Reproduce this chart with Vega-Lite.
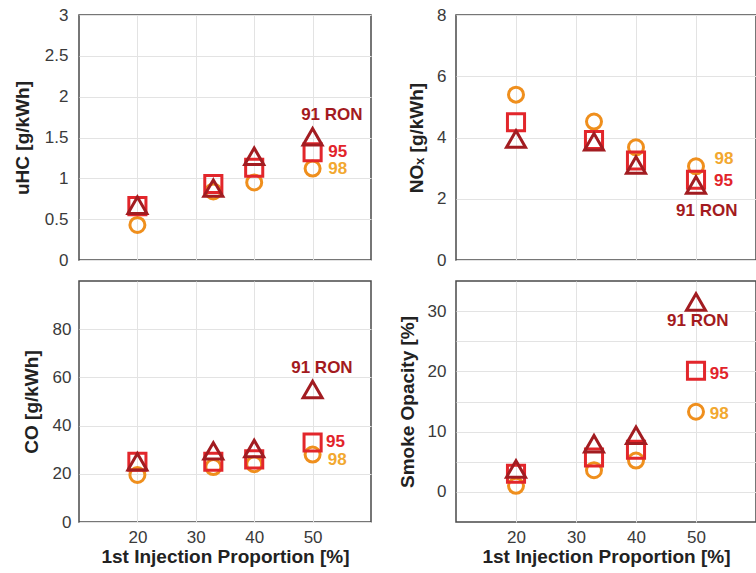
{
  "$schema": "https://vega.github.io/schema/vega-lite/v6.json",
  "padding": {"left": 12, "top": 5, "right": 0, "bottom": 0},
  "background": "white",
  "config": {
    "font": "Liberation Sans",
    "view": {"stroke": "#4a4a4a", "strokeWidth": 1.5},
    "axis": {
      "domain": false, "ticks": false, "grid": true, "gridColor": "#e3e3e3", "gridWidth": 1,
      "labelFont": "Liberation Sans", "labelFontSize": 17, "labelColor": "#3a3a3a", "labelPadding": 11,
      "titleFont": "Liberation Sans", "titleFontSize": 19, "titleFontWeight": "bold", "titleColor": "#222222", "titlePadding": 12,
      "labelFlush": false, "labelOverlap": false, "format": "~r"
    }
  },
  "datasets": {
    "pts": [
      {"p": "uHC", "fuel": "98", "x": 20, "v": 0.43}, {"p": "uHC", "fuel": "98", "x": 33, "v": 0.84}, {"p": "uHC", "fuel": "98", "x": 40, "v": 0.95}, {"p": "uHC", "fuel": "98", "x": 50, "v": 1.12},
      {"p": "uHC", "fuel": "95", "x": 20, "v": 0.66}, {"p": "uHC", "fuel": "95", "x": 33, "v": 0.93}, {"p": "uHC", "fuel": "95", "x": 40, "v": 1.13}, {"p": "uHC", "fuel": "95", "x": 50, "v": 1.32},
      {"p": "uHC", "fuel": "91", "x": 20, "v": 0.67}, {"p": "uHC", "fuel": "91", "x": 33, "v": 0.88}, {"p": "uHC", "fuel": "91", "x": 40, "v": 1.27}, {"p": "uHC", "fuel": "91", "x": 50, "v": 1.51},
      {"p": "NOx", "fuel": "98", "x": 20, "v": 5.40}, {"p": "NOx", "fuel": "98", "x": 33, "v": 4.52}, {"p": "NOx", "fuel": "98", "x": 40, "v": 3.68}, {"p": "NOx", "fuel": "98", "x": 50, "v": 3.06},
      {"p": "NOx", "fuel": "95", "x": 20, "v": 4.50}, {"p": "NOx", "fuel": "95", "x": 33, "v": 3.92}, {"p": "NOx", "fuel": "95", "x": 40, "v": 3.25}, {"p": "NOx", "fuel": "95", "x": 50, "v": 2.62},
      {"p": "NOx", "fuel": "91", "x": 20, "v": 3.95}, {"p": "NOx", "fuel": "91", "x": 33, "v": 3.86}, {"p": "NOx", "fuel": "91", "x": 40, "v": 3.10}, {"p": "NOx", "fuel": "91", "x": 50, "v": 2.45},
      {"p": "CO", "fuel": "98", "x": 20, "v": 19.5}, {"p": "CO", "fuel": "98", "x": 33, "v": 22.8}, {"p": "CO", "fuel": "98", "x": 40, "v": 24.0}, {"p": "CO", "fuel": "98", "x": 50, "v": 28.0},
      {"p": "CO", "fuel": "95", "x": 20, "v": 25.0}, {"p": "CO", "fuel": "95", "x": 33, "v": 25.0}, {"p": "CO", "fuel": "95", "x": 40, "v": 26.0}, {"p": "CO", "fuel": "95", "x": 50, "v": 33.0},
      {"p": "CO", "fuel": "91", "x": 20, "v": 25.0}, {"p": "CO", "fuel": "91", "x": 33, "v": 29.5}, {"p": "CO", "fuel": "91", "x": 40, "v": 30.5}, {"p": "CO", "fuel": "91", "x": 50, "v": 55.0},
      {"p": "Smoke", "fuel": "98", "x": 20, "v": 1.0}, {"p": "Smoke", "fuel": "98", "x": 33, "v": 3.6}, {"p": "Smoke", "fuel": "98", "x": 40, "v": 5.2}, {"p": "Smoke", "fuel": "98", "x": 50, "v": 13.3},
      {"p": "Smoke", "fuel": "95", "x": 20, "v": 3.0}, {"p": "Smoke", "fuel": "95", "x": 33, "v": 5.7}, {"p": "Smoke", "fuel": "95", "x": 40, "v": 7.0}, {"p": "Smoke", "fuel": "95", "x": 50, "v": 20.1},
      {"p": "Smoke", "fuel": "91", "x": 20, "v": 3.8}, {"p": "Smoke", "fuel": "91", "x": 33, "v": 8.0}, {"p": "Smoke", "fuel": "91", "x": 40, "v": 9.4}, {"p": "Smoke", "fuel": "91", "x": 50, "v": 31.5}
    ],
    "labels": [
      {"p": "uHC", "fuel": "91", "a": "c", "x": 53.3, "v": 1.77, "t": "91 RON"},
      {"p": "uHC", "fuel": "95", "a": "l", "x": 52.7, "v": 1.32, "t": "95"},
      {"p": "uHC", "fuel": "98", "a": "l", "x": 52.7, "v": 1.11, "t": "98"},
      {"p": "NOx", "fuel": "98", "a": "l", "x": 53.1, "v": 3.30, "t": "98"},
      {"p": "NOx", "fuel": "95", "a": "l", "x": 53.0, "v": 2.58, "t": "95"},
      {"p": "NOx", "fuel": "91", "a": "c", "x": 51.8, "v": 1.61, "t": "91 RON"},
      {"p": "CO", "fuel": "91", "a": "c", "x": 51.6, "v": 63.7, "t": "91 RON"},
      {"p": "CO", "fuel": "95", "a": "l", "x": 52.3, "v": 33.2, "t": "95"},
      {"p": "CO", "fuel": "98", "a": "l", "x": 52.6, "v": 25.6, "t": "98"},
      {"p": "Smoke", "fuel": "91", "a": "c", "x": 50.3, "v": 28.4, "t": "91 RON"},
      {"p": "Smoke", "fuel": "95", "a": "l", "x": 52.3, "v": 19.5, "t": "95"},
      {"p": "Smoke", "fuel": "98", "a": "l", "x": 52.3, "v": 13.0, "t": "98"}
    ]
  },
  "columns": 2,
  "spacing": {"row": 11, "column": 25},
  "concat": [
    {
      "width": 292, "height": 245,
      "layer": [
        {
          "data": {"name": "pts"}, "transform": [{"filter": "datum.p == 'uHC'"}],
          "mark": {"type": "point", "filled": false, "strokeWidth": 3, "opacity": 1},
          "encoding": {
            "x": {"field": "x", "type": "quantitative", "scale": {"domain": [10, 60]}, "axis": {"values": [20, 30, 40, 50], "labels": false, "title": null}},
            "y": {"field": "v", "type": "quantitative", "scale": {"domain": [0, 3]}, "axis": {"values": [0, 0.5, 1, 1.5, 2, 2.5, 3], "title": "uHC [g/kWh]"}},
            "shape": {"field": "fuel", "type": "nominal", "scale": {"domain": ["91", "95", "98"], "range": ["triangle-up", "square", "circle"]}, "legend": null},
            "stroke": {"field": "fuel", "type": "nominal", "scale": {"domain": ["91", "95", "98"], "range": ["#a21c21", "#e2262b", "#ef8f1d"]}, "legend": null},
            "size": {"field": "fuel", "type": "nominal", "scale": {"domain": ["91", "95", "98"], "range": [360, 225, 270]}, "legend": null}
          }
        },
        {
          "data": {"name": "labels"}, "transform": [{"filter": "datum.p == 'uHC' && datum.a == 'c'"}],
          "mark": {"type": "text", "align": "center", "baseline": "middle", "fontWeight": "bold", "fontSize": 17},
          "encoding": {
            "x": {"field": "x", "type": "quantitative"}, "y": {"field": "v", "type": "quantitative"}, "text": {"field": "t"},
            "fill": {"field": "fuel", "type": "nominal", "scale": {"domain": ["91", "95", "98"], "range": ["#a31a20", "#e2242b", "#f2a830"]}, "legend": null}
          }
        },
        {
          "data": {"name": "labels"}, "transform": [{"filter": "datum.p == 'uHC' && datum.a == 'l'"}],
          "mark": {"type": "text", "align": "left", "baseline": "middle", "fontWeight": "bold", "fontSize": 17},
          "encoding": {
            "x": {"field": "x", "type": "quantitative"}, "y": {"field": "v", "type": "quantitative"}, "text": {"field": "t"},
            "fill": {"field": "fuel", "type": "nominal", "legend": null}
          }
        }
      ]
    },
    {
      "width": 300, "height": 245,
      "layer": [
        {
          "data": {"name": "pts"}, "transform": [{"filter": "datum.p == 'NOx'"}],
          "mark": {"type": "point", "filled": false, "strokeWidth": 3, "opacity": 1},
          "encoding": {
            "x": {"field": "x", "type": "quantitative", "scale": {"domain": [10, 59]}, "axis": {"values": [20, 30, 40, 50], "labels": false, "title": null}},
            "y": {"field": "v", "type": "quantitative", "scale": {"domain": [0, 8]}, "axis": {"values": [0, 1, 2, 3, 4, 5, 6, 7, 8], "labelExpr": "datum.value % 2 == 0 ? datum.label : ''", "title": "NOₓ [g/kWh]", "labelPadding": 10, "titlePadding": 10}},
            "shape": {"field": "fuel", "type": "nominal", "legend": null},
            "stroke": {"field": "fuel", "type": "nominal", "legend": null},
            "size": {"field": "fuel", "type": "nominal", "legend": null}
          }
        },
        {
          "data": {"name": "labels"}, "transform": [{"filter": "datum.p == 'NOx' && datum.a == 'c'"}],
          "mark": {"type": "text", "align": "center", "baseline": "middle", "fontWeight": "bold", "fontSize": 17},
          "encoding": {
            "x": {"field": "x", "type": "quantitative"}, "y": {"field": "v", "type": "quantitative"}, "text": {"field": "t"},
            "fill": {"field": "fuel", "type": "nominal", "legend": null}
          }
        },
        {
          "data": {"name": "labels"}, "transform": [{"filter": "datum.p == 'NOx' && datum.a == 'l'"}],
          "mark": {"type": "text", "align": "left", "baseline": "middle", "fontWeight": "bold", "fontSize": 17},
          "encoding": {
            "x": {"field": "x", "type": "quantitative"}, "y": {"field": "v", "type": "quantitative"}, "text": {"field": "t"},
            "fill": {"field": "fuel", "type": "nominal", "legend": null}
          }
        }
      ]
    },
    {
      "width": 292, "height": 241,
      "layer": [
        {
          "data": {"name": "pts"}, "transform": [{"filter": "datum.p == 'CO'"}],
          "mark": {"type": "point", "filled": false, "strokeWidth": 3, "opacity": 1},
          "encoding": {
            "x": {"field": "x", "type": "quantitative", "scale": {"domain": [10, 60]}, "axis": {"values": [20, 30, 40, 50], "title": "1st Injection Proportion [%]", "labelPadding": 7, "titlePadding": 2}},
            "y": {"field": "v", "type": "quantitative", "scale": {"domain": [0, 100]}, "axis": {"values": [0, 20, 40, 60, 80], "title": "CO [g/kWh]", "labelPadding": 8, "titlePadding": 11}},
            "shape": {"field": "fuel", "type": "nominal", "legend": null},
            "stroke": {"field": "fuel", "type": "nominal", "legend": null},
            "size": {"field": "fuel", "type": "nominal", "legend": null}
          }
        },
        {
          "data": {"name": "labels"}, "transform": [{"filter": "datum.p == 'CO' && datum.a == 'c'"}],
          "mark": {"type": "text", "align": "center", "baseline": "middle", "fontWeight": "bold", "fontSize": 17},
          "encoding": {
            "x": {"field": "x", "type": "quantitative"}, "y": {"field": "v", "type": "quantitative"}, "text": {"field": "t"},
            "fill": {"field": "fuel", "type": "nominal", "legend": null}
          }
        },
        {
          "data": {"name": "labels"}, "transform": [{"filter": "datum.p == 'CO' && datum.a == 'l'"}],
          "mark": {"type": "text", "align": "left", "baseline": "middle", "fontWeight": "bold", "fontSize": 17},
          "encoding": {
            "x": {"field": "x", "type": "quantitative"}, "y": {"field": "v", "type": "quantitative"}, "text": {"field": "t"},
            "fill": {"field": "fuel", "type": "nominal", "legend": null}
          }
        }
      ]
    },
    {
      "width": 300, "height": 241,
      "layer": [
        {
          "data": {"name": "pts"}, "transform": [{"filter": "datum.p == 'Smoke'"}],
          "mark": {"type": "point", "filled": false, "strokeWidth": 3, "opacity": 1},
          "encoding": {
            "x": {"field": "x", "type": "quantitative", "scale": {"domain": [10, 59]}, "axis": {"values": [20, 30, 40, 50], "title": "1st Injection Proportion [%]", "labelPadding": 7, "titlePadding": 2}},
            "y": {"field": "v", "type": "quantitative", "scale": {"domain": [-5, 35]}, "axis": {"values": [0, 5, 10, 15, 20, 25, 30], "labelExpr": "datum.value % 10 == 0 ? datum.label : ''", "title": "Smoke Opacity [%]", "labelPadding": 10, "titlePadding": 10}},
            "shape": {"field": "fuel", "type": "nominal", "legend": null},
            "stroke": {"field": "fuel", "type": "nominal", "legend": null},
            "size": {"field": "fuel", "type": "nominal", "legend": null}
          }
        },
        {
          "data": {"name": "labels"}, "transform": [{"filter": "datum.p == 'Smoke' && datum.a == 'c'"}],
          "mark": {"type": "text", "align": "center", "baseline": "middle", "fontWeight": "bold", "fontSize": 17},
          "encoding": {
            "x": {"field": "x", "type": "quantitative"}, "y": {"field": "v", "type": "quantitative"}, "text": {"field": "t"},
            "fill": {"field": "fuel", "type": "nominal", "legend": null}
          }
        },
        {
          "data": {"name": "labels"}, "transform": [{"filter": "datum.p == 'Smoke' && datum.a == 'l'"}],
          "mark": {"type": "text", "align": "left", "baseline": "middle", "fontWeight": "bold", "fontSize": 17},
          "encoding": {
            "x": {"field": "x", "type": "quantitative"}, "y": {"field": "v", "type": "quantitative"}, "text": {"field": "t"},
            "fill": {"field": "fuel", "type": "nominal", "legend": null}
          }
        }
      ]
    }
  ]
}
